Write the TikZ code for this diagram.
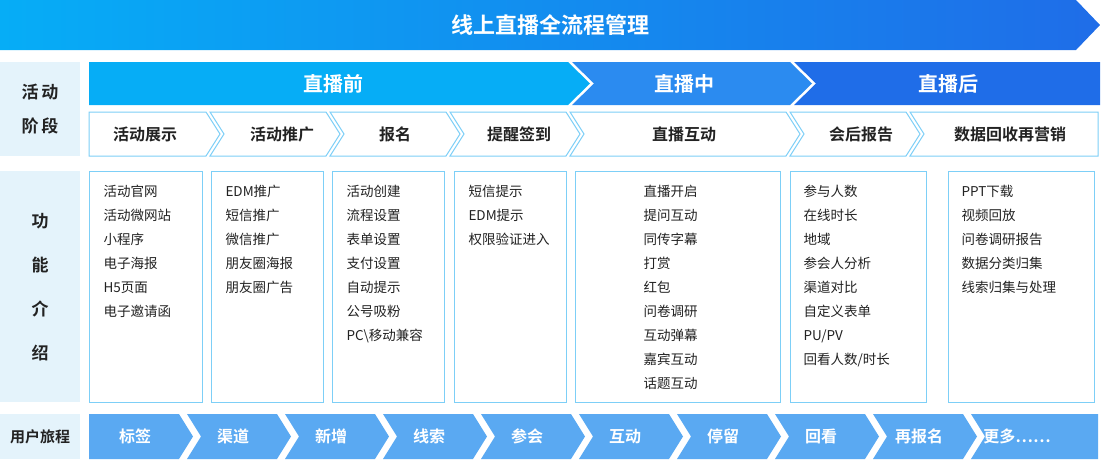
\documentclass[tikz,border=0pt]{standalone}
\usepackage{fontspec}
\setmainfont{Noto Sans CJK SC}
\newfontfamily\bfcjk{Noto Sans CJK SC Bold}
\definecolor{lbg}{HTML}{E4F3FB}
\definecolor{cyanb}{HTML}{06ADF6}
\definecolor{midb}{HTML}{2B8BF0}
\definecolor{darkb}{HTML}{1F6DE8}
\definecolor{bord}{HTML}{7DCFF7}
\definecolor{journ}{HTML}{5AA9F2}
\definecolor{txt}{HTML}{222222}
\begin{document}
\begin{tikzpicture}[x=1pt,y=-1pt,
  lab/.style={font=\bfcjk\fontsize{17}{20}\selectfont,text=txt,align=center},
  stp/.style={font=\bfcjk\fontsize{16}{18}\selectfont,text=txt},
  ph/.style={font=\bfcjk\fontsize{20}{22}\selectfont,text=white},
  jt/.style={font=\bfcjk\fontsize{16}{18}\selectfont,text=white},
  item/.style={font=\fontsize{13.5}{24}\selectfont,text=txt,align=left,anchor=north west},
  cbox/.style={draw=bord,line width=1pt,fill=white}]
\useasboundingbox (0,0) rectangle (1101,459);
% title
\shade[left color=cyanb,right color=darkb] (0,0)--(1076,0)--(1100,25)--(1076,50)--(0,50)--cycle;
\node[font=\bfcjk\fontsize{22}{24}\selectfont,text=white] (title) at (550,25) {线上直播全流程管理};
% left labels
\fill[lbg] (0,62) rectangle (80,156);
\node[lab,font=\bfcjk\fontsize{17}{34}\selectfont] (l1) at (40,109) {活\,动\\阶\,段};
\fill[lbg] (0,171) rectangle (80,402);
\node[lab,font=\bfcjk\fontsize{17}{44}\selectfont] (l2) at (40,287) {功\\能\\介\\绍};
\fill[lbg] (0,414) rectangle (80,459);
\node[lab,font=\bfcjk\fontsize{15}{18}\selectfont] (l3) at (40,436.5) {用户旅程};
% phases
\fill[cyanb] (89,62)--(568,62)--(590,83.5)--(568,105)--(89,105)--cycle;
\node[ph] (p1) at (333,83.5) {直播前};
\fill[midb] (572,62)--(790,62)--(812,83.5)--(790,105)--(572,105)--(594,83.5)--cycle;
\node[ph] (p2) at (684,83.5) {直播中};
\fill[darkb] (794,62)--(1100,62)--(1100,105)--(794,105)--(816,83.5)--cycle;
\node[ph] (p3) at (948,83.5) {直播后};
% steps
\draw[cbox] (89,112)--(206,112)--(220,134)--(206,156)--(89,156)--cycle;
\node[stp] (s1) at (145,134) {活动展示};
\draw[cbox] (210,112)--(326,112)--(340,134)--(326,156)--(210,156)--(224,134)--cycle;
\node[stp] (s2) at (282,134) {活动推广};
\draw[cbox] (330,112)--(446,112)--(460,134)--(446,156)--(330,156)--(344,134)--cycle;
\node[stp] (s3) at (395,134) {报名};
\draw[cbox] (450,112)--(566,112)--(580,134)--(566,156)--(450,156)--(464,134)--cycle;
\node[stp] (s4) at (519,134) {提醒签到};
\draw[cbox] (570,112)--(786,112)--(800,134)--(786,156)--(570,156)--(584,134)--cycle;
\node[stp] (s5) at (684,134) {直播互动};
\draw[cbox] (790,112)--(906,112)--(920,134)--(906,156)--(790,156)--(804,134)--cycle;
\node[stp] (s6) at (861,134) {会后报告};
\draw[cbox] (910,112)--(1098,112)--(1098,156)--(910,156)--(924,134)--cycle;
\node[stp] (s7) at (1010,134) {数据回收再营销};
% content boxes
\draw[cbox] (89,171) rectangle (202,402);
\node[item] (c1) at (100,182) {活动官网\\活动微网站\\小程序\\电子海报\\H5页面\\电子邀请函};
\draw[cbox] (211,171) rectangle (323,402);
\node[item] (c2) at (222,182) {EDM推广\\短信推广\\微信推广\\朋友圈海报\\朋友圈广告};
\draw[cbox] (332,171) rectangle (444,402);
\node[item] (c3) at (343,182) {活动创建\\流程设置\\表单设置\\支付设置\\自动提示\\公号吸粉\\PC\textbackslash 移动兼容};
\draw[cbox] (454,171) rectangle (566,402);
\node[item] (c4) at (465,182) {短信提示\\EDM提示\\权限验证进入};
\draw[cbox] (575,171) rectangle (780,402);
\node[item] (c5) at (640,182) {直播开启\\提问互动\\同传字幕\\打赏\\红包\\问卷调研\\互动弹幕\\嘉宾互动\\话题互动};
\draw[cbox] (790,171) rectangle (926,402);
\node[item] (c6) at (800,182) {参与人数\\在线时长\\地域\\参会人分析\\渠道对比\\自定义表单\\PU/PV\\回看人数/时长};
\draw[cbox] (948,171) rectangle (1094,402);
\node[item] (c7) at (958,182) {PPT下载\\视频回放\\问卷调研报告\\数据分类归集\\线索归集与处理};
% journey
\foreach \t [count=\i from 0] in {标签,渠道,新增,线索,参会,互动,停留,回看,再报名,更多……}{
  \pgfmathsetmacro{\L}{89+98*\i}
  \pgfmathsetmacro{\R}{\L+90}
  \ifnum\i=0
    \fill[journ] (\L,414)--(\R,414)--(\R+14,436.5)--(\R,459)--(\L,459)--cycle;
  \else\ifnum\i=9
    \fill[journ] (\L,414)--(1098,414)--(1098,459)--(\L,459)--(\L+14,436.5)--cycle;
  \else
    \fill[journ] (\L,414)--(\R,414)--(\R+14,436.5)--(\R,459)--(\L,459)--(\L+14,436.5)--cycle;
  \fi\fi
  \node[jt] (j\i) at (\L+46,436.5) {\t};
}
\end{tikzpicture}
\end{document}
